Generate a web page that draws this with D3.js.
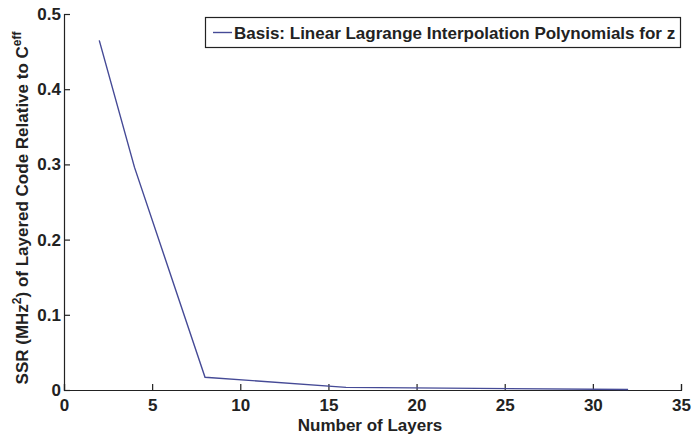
<!DOCTYPE html>
<html>
<head>
<meta charset="utf-8">
<script src="https://cdn.jsdelivr.net/npm/d3@7"></script>
<style>
  html, body { margin: 0; padding: 0; background: #fff; }
  svg { display: block; font-family: "Liberation Sans", Arial, Helvetica, sans-serif; }
</style>
</head>
<body>
<svg id="chart" width="693" height="437"></svg>
<script>
// Number of layers and the resulting SSR for the linear Lagrange basis
const layers = [2, 4, 8, 16, 32];
const ssr = [0.465, 0.296, 0.017, 0.0035, 0.0006];
const xTicks = [0, 5, 10, 15, 20, 25, 30, 35];
const yTicks = [0, 0.1, 0.2, 0.3, 0.4, 0.5];
const legendLabel = "Basis: Linear Lagrange Interpolation Polynomials for z";

const svg = d3.select("#chart");
const plot = { left: 64, right: 681, top: 14, bottom: 390 };

const x = d3.scaleLinear().domain([0, 35]).range([plot.left, plot.right]);
const y = d3.scaleLinear().domain([0, 0.5]).range([plot.bottom, plot.top]);

const ink = "#222";
const lineColor = "#454a96";
const fontSize = 17;

// x axis, ticks pointing into the plot
const gx = svg.append("g")
  .attr("transform", `translate(0,${plot.bottom})`)
  .call(d3.axisBottom(x).tickValues(xTicks).tickSize(-6).tickPadding(9)
    .tickFormat(d3.format("d")));
gx.select(".domain").attr("stroke", ink).attr("stroke-width", 1.2);
gx.selectAll(".tick line").attr("stroke", ink).attr("stroke-width", 1.2);
gx.selectAll(".tick text").attr("fill", ink).attr("font-size", fontSize)
  .attr("font-weight", "bold")
  .attr("font-family", "Liberation Sans, Arial, sans-serif");

// y axis, ticks pointing into the plot
const gy = svg.append("g")
  .attr("transform", `translate(${plot.left},0)`)
  .call(d3.axisLeft(y).tickValues(yTicks).tickSize(-6).tickPadding(3)
    .tickFormat(d => d === 0 ? "0" : d3.format(".1f")(d)));
gy.select(".domain").attr("stroke", ink).attr("stroke-width", 1.2);
gy.selectAll(".tick line").attr("stroke", ink).attr("stroke-width", 1.2);
gy.selectAll(".tick text").attr("fill", ink).attr("font-size", fontSize)
  .attr("font-weight", "bold")
  .attr("font-family", "Liberation Sans, Arial, sans-serif");

// data line
const pts = layers.map((l, i) => [l, ssr[i]]);
svg.append("path")
  .datum(pts)
  .attr("fill", "none")
  .attr("stroke", lineColor)
  .attr("stroke-width", 1.4)
  .attr("d", d3.line().x(d => x(d[0])).y(d => y(d[1])));

// axis titles
svg.append("text")
  .attr("x", 370)
  .attr("y", 431)
  .attr("text-anchor", "middle")
  .attr("font-size", fontSize)
  .attr("font-weight", "bold")
  .attr("fill", ink)
  .text("Number of Layers");

const yl = svg.append("text")
  .attr("transform", `translate(28,${(plot.top + plot.bottom) / 2 + 6}) rotate(-90)`)
  .attr("text-anchor", "middle")
  .attr("font-size", fontSize)
  .attr("font-weight", "bold")
  .attr("fill", ink);
yl.append("tspan").text("SSR (MHz");
yl.append("tspan").attr("dy", -7).attr("font-size", 12).text("2");
yl.append("tspan").attr("dy", 7).text(") of Layered Code Relative to C");
yl.append("tspan").attr("dy", -7).attr("font-size", 12).text("eff");

// legend
const lg = svg.append("g");
lg.append("rect")
  .attr("x", 205.5).attr("y", 17.5).attr("width", 475).attr("height", 30)
  .attr("fill", "#fff").attr("stroke", ink).attr("stroke-width", 1.2);
lg.append("line")
  .attr("x1", 213).attr("x2", 232).attr("y1", 32.5).attr("y2", 32.5)
  .attr("stroke", lineColor).attr("stroke-width", 1.4);
lg.append("text")
  .attr("x", 234).attr("y", 38.5)
  .attr("font-size", fontSize)
  .attr("font-weight", "bold")
  .attr("fill", ink)
  .text(legendLabel);
</script>
</body>
</html>
